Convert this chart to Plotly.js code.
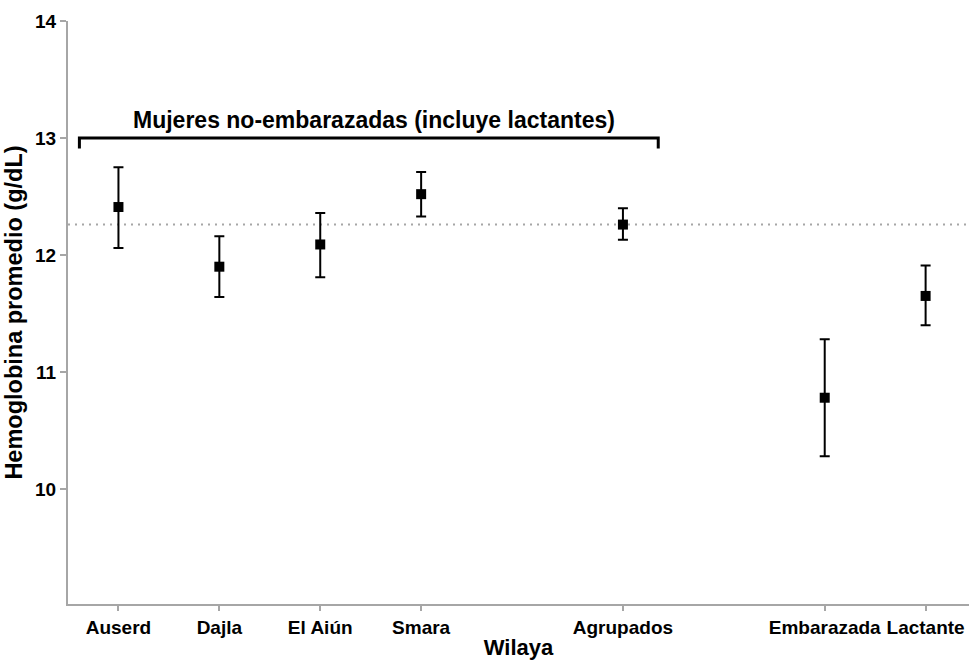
<!DOCTYPE html>
<html>
<head>
<meta charset="utf-8">
<script src="https://cdn.plot.ly/plotly-3.0.1.min.js"></script>
<style>html,body{margin:0;padding:0;background:#fff;}#chart{width:970px;height:661px;}</style>
</head>
<body>
<div id="chart"></div>
<script>
const categories = ["Auserd", "Dajla", "El Aiún", "Smara", "Agrupados", "Embarazada", "Lactante"];
const positions = [0, 1, 2, 3, 5, 7, 8];
const meanHb = [12.41, 11.90, 12.09, 12.52, 12.26, 10.78, 11.65];
const upperCI = [12.75, 12.16, 12.36, 12.71, 12.40, 11.28, 11.91];
const lowerCI = [12.06, 11.64, 11.81, 12.33, 12.13, 10.28, 11.40];
const referenceLine = 12.26;
const yTicks = [10, 11, 12, 13, 14];
const bracketLabel = "Mujeres no-embarazadas (incluye lactantes)";

const errPlus = meanHb.map((v, i) => +(upperCI[i] - v).toFixed(3));
const errMinus = meanHb.map((v, i) => +(v - lowerCI[i]).toFixed(3));

const fontFam = "Liberation Sans, Arial, Helvetica, sans-serif";

const trace = {
  x: positions,
  y: meanHb,
  type: "scatter",
  mode: "markers",
  marker: {symbol: "square", size: 10, color: "#000"},
  error_y: {
    type: "data", symmetric: false, array: errPlus, arrayminus: errMinus,
    color: "#000", thickness: 2, width: 5
  },
  showlegend: false,
  hoverinfo: "x+y"
};

const layout = {
  width: 970, height: 661,
  margin: {l: 68, r: 1, t: 21, b: 57},
  paper_bgcolor: "#fff", plot_bgcolor: "#fff",
  font: {family: fontFam, color: "#000"},
  xaxis: {
    range: [-0.5, 8.43],
    tickmode: "array", tickvals: positions, ticktext: categories,
    showgrid: false, zeroline: false,
    showline: true, linecolor: "#a6a6a6", linewidth: 2,
    ticks: "outside", ticklen: 5, tickwidth: 2, tickcolor: "#a6a6a6",
    tickfont: {family: fontFam, size: 19, weight: "bold", color: "#000"},
    title: {text: "Wilaya", font: {family: fontFam, size: 22, weight: "bold", color: "#000"}, standoff: 3}
  },
  yaxis: {
    range: [9.017, 14],
    tickmode: "array", tickvals: yTicks, ticktext: yTicks.map(String),
    showgrid: false, zeroline: false,
    showline: true, linecolor: "#a6a6a6", linewidth: 2,
    ticks: "outside", ticklen: 6, tickwidth: 2, tickcolor: "#a6a6a6",
    tickfont: {family: fontFam, size: 19, weight: "bold", color: "#000"},
    title: {text: "Hemoglobina promedio (g/dL)", font: {family: fontFam, size: 23.5, weight: "bold", color: "#000"}, standoff: 6}
  },
  shapes: [
    {type: "line", xref: "paper", x0: 0, x1: 1, yref: "y", y0: referenceLine, y1: referenceLine,
     line: {color: "#a6a6a6", width: 2, dash: "2px,5px"}, layer: "below"},
    {type: "path", xref: "x", yref: "y",
     path: "M -0.387 12.91 L -0.387 13 L 5.35 13 L 5.35 12.91",
     line: {color: "#000", width: 3}}
  ],
  annotations: [
    {x: 2.53, y: 13, xref: "x", yref: "y", text: bracketLabel, showarrow: false,
     yanchor: "bottom", yshift: 3,
     font: {family: fontFam, size: 23, weight: "bold", color: "#000"}}
  ]
};

Plotly.newPlot("chart", [trace], layout, {displayModeBar: false, staticPlot: true});
</script>
</body>
</html>
